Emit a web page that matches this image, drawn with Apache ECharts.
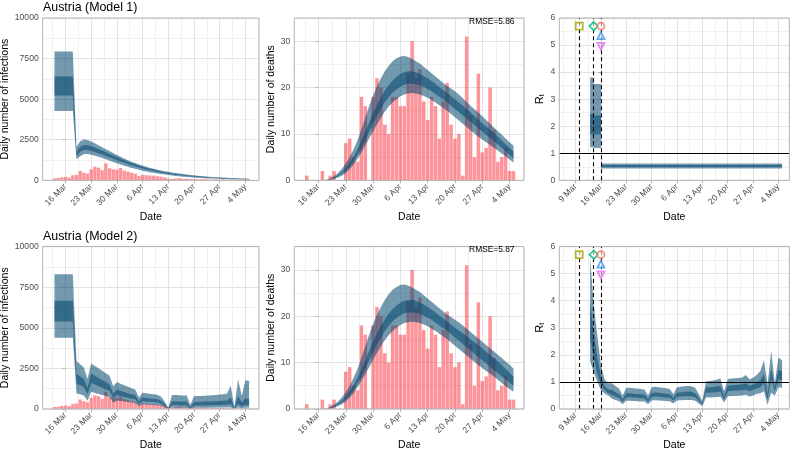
<!DOCTYPE html>
<html><head><meta charset="utf-8">
<script src="https://cdn.jsdelivr.net/npm/echarts@6/dist/echarts.min.js"></script>
<style>html,body{margin:0;padding:0;background:#fff}#c{width:794px;height:450px}</style>
</head><body><div id="c"></div>
<script>
// ---------- DATA (x = day offset from 16 Mar 2020) ----------
const days = [-3,-2,-1,0,1,2,3,4,5,6,7,8,9,10,11,12,13,14,15,16,17,18,19,20,21,22,23,24,25,26,27,28,29,30,31,32,33,34,35,36,37,38,39,40,41,42,43,44,45,46,47,48,49,50];
const tickDays = [-7,0,7,14,21,28,35,42,49];
const tickLabels = ['9 Mar','16 Mar','23 Mar','30 Mar','6 Apr','13 Apr','20 Apr','27 Apr','4 May'];
const minorDays = [-10.5,-3.5,3.5,10.5,17.5,24.5,31.5,38.5,45.5,52.5];

const cases = [120,145,185,205,165,310,330,580,470,410, 680,840,780,620,1050,740,680,650,760,600, 530,470,410,270,330,310,300,280,250,220, 180,110,80,110,130,90,100,75,80,60, 70,75,40,50,55,45,60,40,30,35, 25,30,40,30];
const deaths = [1,0,0,0,2,0,1,2,0,0, 8,9,5,4,18,16,0,18,22,20, 12,10,18,18,16,16,23,30,22,24, 17,13,18,16,9,17,21,12,9,10, 1,31,14,5,23,6,7,20,11,4, 5,7,2,2];

// Model 1 infections
const infM1_u95 = [7930,7930,7930,7930,7930,7930, 2050,2400,2520,2480,2390,2280,2160,2040,1920,1800, 1680,1560,1450,1340,1240,1150,1060,980,905,835, 770,710,655,605,560,520,480,445,412,382, 354,328,304,282,262,243,226,210,195,181, 168,156,145,135,125,116,108,100];
const infM1_u50 = [6400,6400,6400,6400,6400,6400, 1750,2050,2170,2160,2100,2020,1930,1830,1730,1630, 1530,1430,1330,1240,1150,1065,985,910,840,775, 715,660,608,560,515,474,436,402,370,340, 313,288,265,244,224,206,190,175,161,148, 136,125,115,106,98,90,83,76];
const infM1_l50 = [5220,5220,5220,5220,5220,5220, 1500,1760,1870,1870,1820,1750,1670,1585,1500,1410, 1325,1240,1155,1075,1000,925,855,790,730,673, 620,571,526,484,445,410,377,347,319,293, 270,248,228,210,193,177,163,150,138,127, 117,107,99,91,84,77,71,65];
const infM1_l95 = [4270,4270,4270,4270,4270,4270, 1300,1480,1600,1620,1580,1520,1450,1370,1290,1210, 1130,1050,975,900,830,765,705,650,595,545, 500,460,420,385,352,322,294,268,245,224, 204,186,170,155,141,129,117,107,97,88, 80,73,66,60,55,50,45,41];

// Model 2 infections
const infM2_u95 = [8290,8290,8290,8290,8290,8290, 2950,2750,2550,1850,2800,2650,2500,2350,2200,2050, 1400,1650,1550,1450,1360,1280,1200,700,1000,960, 930,900,870,760,450,60,860,850,840,830, 820,250,780,790,800,810,820,840,860,880, 900,950,1420,100,1820,800,1760,1720];
const infM2_u50 = [6660,6660,6660,6660,6660,6660, 2150,2000,1850,1300,2200,2050,1900,1780,1650,1520, 950,1200,1120,1040,970,910,850,450,700,670, 645,620,600,520,300,35,470,465,460,455, 450,120,430,435,440,450,455,465,475,485, 500,520,700,50,800,400,650,600];
const infM2_l50 = [5380,5380,5380,5380,5380,5380, 1550,1450,1330,900,1600,1500,1400,1300,1200,1100, 650,850,790,730,680,630,590,300,480,460, 440,420,400,340,190,20,230,225,220,215, 210,50,200,205,210,215,220,225,230,235, 240,250,280,20,300,150,250,230];
const infM2_l95 = [4390,4390,4390,4390,4390,4390, 950,900,820,500,1050,980,920,860,800,740, 380,520,480,450,420,390,360,160,280,265, 255,240,230,190,100,8,80,78,76,74, 72,15,70,70,72,74,76,78,80,82, 84,86,90,5,90,40,80,75];

// Model 1 deaths
const dM1_u95 = [0,0,0,0,0, 0.1,0.4,0.9,1.6,2.5,3.6,5.0,6.7,8.6,11.0,13.5,16.0,18.3,20.3,22.0,23.5,24.7,25.7,26.3,26.7,26.8,26.6,26.2,25.7,25.2,24.5,23.8,23.1,22.4,21.7,21.0,20.3,19.8,19.2,18.5,17.7,16.9,16.1,15.3,14.6,13.8,13.0,12.2,11.4,10.6,9.8,9.0,8.2,7.5];
const dM1_u50 = [0,0,0,0,0, 0.05,0.25,0.6,1.1,1.8,2.7,3.8,5.1,6.7,8.5,10.5,12.5,14.5,16.3,17.9,19.3,20.5,21.5,22.3,22.9,23.3,23.5,23.5,23.3,22.9,22.5,22.0,21.4,20.8,20.1,19.5,18.8,18.2,17.5,16.8,16.1,15.4,14.7,13.8,13.0,12.3,11.6,10.9,10.2,9.4,8.6,7.8,7.0,6.2];
const dM1_l50 = [0,0,0,0,0, 0.02,0.15,0.45,0.85,1.4,2.1,3.0,4.1,5.4,6.9,8.6,10.4,12.2,13.9,15.4,16.8,17.9,18.9,19.6,20.2,20.6,20.8,20.8,20.7,20.5,20.1,19.7,19.2,18.6,18.0,17.4,16.8,16.1,15.4,14.7,14.0,13.3,12.6,11.9,11.2,10.5,9.8,9.1,8.4,7.7,7.0,6.3,5.5,4.7];
const dM1_l95 = [0,0,0,0,0, 0,0.1,0.3,0.6,1.0,1.6,2.4,3.4,4.6,6.0,7.5,9.0,10.6,12.1,13.5,14.8,15.9,16.8,17.5,18.1,18.5,18.7,18.8,18.7,18.5,18.2,17.8,17.3,16.8,16.2,15.6,15.0,14.3,13.6,12.9,12.2,11.5,10.8,10.1,9.4,8.8,8.2,7.6,7.0,6.4,5.8,5.2,4.5,3.8];

// Model 2 deaths
const dM2_u95 = [0,0,0,0,0, 0.1,0.4,0.9,1.6,2.5,3.6,5.0,6.7,8.6,11.0,13.5,16.0,18.3,20.3,22.0,23.5,24.7,25.7,26.3,26.7,26.8,26.6,26.2,25.7,25.2,24.5,23.8,23.1,22.4,21.7,21.0,20.3,19.8,19.2,18.7,18.0,17.3,16.6,15.9,15.2,14.5,13.8,13.1,12.4,11.7,11.0,10.2,9.5,8.7];
const dM2_u50 = [0,0,0,0,0, 0.05,0.25,0.6,1.1,1.8,2.7,3.8,5.1,6.7,8.5,10.5,12.5,14.5,16.3,17.9,19.3,20.5,21.5,22.3,22.9,23.3,23.5,23.5,23.3,22.9,22.5,22.0,21.4,20.8,20.1,19.5,18.8,18.2,17.5,16.9,16.3,15.7,15.0,14.4,13.7,13.0,12.3,11.6,10.9,10.2,9.4,8.6,7.8,7.0];
const dM2_l50 = [0,0,0,0,0, 0.02,0.15,0.45,0.85,1.4,2.1,3.0,4.1,5.4,6.9,8.6,10.4,12.2,13.9,15.4,16.8,17.9,18.9,19.6,20.2,20.6,20.8,20.8,20.7,20.5,20.1,19.7,19.2,18.6,18.0,17.4,16.8,16.1,15.4,14.7,14.0,13.3,12.6,11.9,11.2,10.5,9.8,9.1,8.4,7.7,7.0,6.4,5.7,5.0];
const dM2_l95 = [0,0,0,0,0, 0,0.1,0.3,0.6,1.0,1.6,2.4,3.4,4.6,6.0,7.5,9.0,10.6,12.1,13.5,14.8,15.9,16.8,17.5,18.1,18.5,18.7,18.8,18.7,18.5,18.2,17.8,17.3,16.8,16.2,15.6,15.0,14.3,13.6,12.9,12.2,11.5,10.8,10.1,9.4,8.8,8.2,7.6,7.0,6.3,5.6,4.9,4.3,3.7];

// Model 1 Rt (piecewise constant, change points)
const rtM1Days = [-3,-2,0,50];
const rtM1_u95 = [3.8,3.56,0.62,0.62];
const rtM1_u50 = [2.45,2.4,0.57,0.57];
const rtM1_l50 = [1.7,1.69,0.49,0.49];
const rtM1_l95 = [1.22,1.19,0.44,0.44];

// Model 2 Rt
const rtM2_u95 = [5.6,3.9,2.7,1.6,1.1,0.95,0.95,0.85,0.75,0.5, 0.78,0.78,0.76,0.75,0.74,0.72,0.5,0.8,0.82,0.8, 0.78,0.76,0.74,0.55,0.8,0.82,0.84,0.85,0.84,0.78, 0.55,0.3,1.02,1.03,1.05,1.08,1.12,0.65,1.1,1.12, 1.13,1.14,1.16,1.25,1.1,1.15,1.25,1.4,1.8,0.9, 2.15,0.95,1.9,1.8];
const rtM2_u50 = [4.0,2.8,1.9,1.2,0.85,0.72,0.7,0.62,0.55,0.36, 0.58,0.58,0.56,0.55,0.54,0.53,0.36,0.6,0.61,0.6, 0.58,0.56,0.55,0.4,0.6,0.61,0.63,0.64,0.63,0.58, 0.4,0.2,0.8,0.8,0.81,0.83,0.86,0.48,0.85,0.87, 0.88,0.89,0.9,0.95,0.85,0.9,0.97,1.05,1.3,0.55, 1.5,0.8,1.45,1.4];
const rtM2_l50 = [2.6,1.9,1.3,0.9,0.7,0.58,0.52,0.46,0.40,0.26, 0.43,0.43,0.42,0.41,0.40,0.39,0.26,0.45,0.46,0.45, 0.43,0.42,0.41,0.3,0.45,0.46,0.47,0.48,0.47,0.43, 0.3,0.15,0.6,0.6,0.61,0.62,0.64,0.35,0.65,0.66, 0.67,0.68,0.69,0.72,0.65,0.7,0.75,0.8,0.95,0.35, 1.1,0.65,1.1,1.05];
const rtM2_l95 = [1.75,1.37,1.0,0.69,0.57,0.5,0.38,0.33,0.28,0.17, 0.3,0.3,0.29,0.28,0.27,0.27,0.17,0.31,0.32,0.31, 0.3,0.29,0.28,0.2,0.31,0.32,0.33,0.33,0.33,0.3, 0.2,0.1,0.42,0.42,0.43,0.44,0.45,0.24,0.47,0.48, 0.48,0.49,0.5,0.52,0.46,0.5,0.55,0.58,0.65,0.15, 0.6,0.5,0.8,0.78];

// Interventions
const interventionDays = [-6,-2,0];
const markerDays = [-6,-2,0,0,0];
const markerRt = [5.7,5.7,5.7,5.35,4.95];
const markerShapes = ['rect','diamond','circle','triangle','triangle'];
const markerRotate = [0,0,0,0,180];
const markerColors = ['#A3A500','#00BF7D','#F8766D','#3D9BF0','#E76BF3'];

const rmse = ['RMSE=5.86','RMSE=5.87'];
const titles = ['Austria (Model 1)','Austria (Model 2)'];

// ---------- STYLE / LAYOUT ----------
const FONT = 'Liberation Sans, Arial, Helvetica, sans-serif';
const BAND = 'rgba(0,70,110,0.55)';
const BAR = 'rgba(250,60,70,0.55)';
const grids = [
  {left:42.7, top:18, width:216.3, height:162.3},
  {left:294.3, top:18, width:229.7, height:162.3},
  {left:559.3, top:18, width:230, height:162.3},
  {left:42.7, top:246.6, width:216.3, height:162.3},
  {left:294.3, top:246.6, width:229.7, height:162.3},
  {left:559.3, top:246.6, width:230, height:162.3}
];
const xExt = [[-6.2,52.7],[-6.2,52.7],[-11.5,52.0],[-6.2,52.7],[-6.2,52.7],[-11.5,52.0]];

const xAxes = [], yAxes = [], series = [], graphics = [];
function lbl(v){ const i = tickDays.indexOf(Math.round(v)); return i >= 0 ? tickLabels[i] : ''; }

function addAxes(i, yMax, yTicks, yMinor, yName, yGap, yRich) {
  const [mn, mx] = xExt[i];
  xAxes.push({type:'value', gridIndex:i, min:mn, max:mx,
    axisLine:{show:false},
    axisTick:{show:true, customValues:tickDays, length:3, lineStyle:{color:'#b3b3b3', width:1}},
    axisLabel:{customValues:tickDays, formatter:lbl, rotate:45, fontSize:8.6, color:'#4d4d4d', margin:5, fontFamily:FONT},
    splitLine:{show:true, lineStyle:{color:'#e2e2e2', width:1}},
    name:'Date', nameLocation:'middle', nameGap:31, nameTextStyle:{fontSize:10.5, color:'#000', fontFamily:FONT}});
  xAxes.push({type:'value', gridIndex:i, min:mn, max:mx, axisLine:{show:false},
    axisTick:{show:false, customValues:minorDays}, axisLabel:{show:false},
    splitLine:{show:true, lineStyle:{color:'#f0f0f0', width:1}}});
  const ya = {type:'value', gridIndex:i, min:0, max:yMax,
    axisLine:{show:false},
    axisTick:{show:true, customValues:yTicks, length:3, lineStyle:{color:'#b3b3b3', width:1}},
    axisLabel:{customValues:yTicks, formatter:v=>String(v), fontSize:8.6, color:'#4d4d4d', margin:4, fontFamily:FONT},
    splitLine:{show:true, lineStyle:{color:'#e2e2e2', width:1}},
    name:yName, nameLocation:'middle', nameGap:yGap,
    nameTextStyle:{fontSize:10.5, color:'#000', fontFamily:FONT}};
  if (yRich) ya.nameTextStyle.rich = yRich;
  yAxes.push(ya);
  yAxes.push({type:'value', gridIndex:i, min:0, max:yMax, axisLine:{show:false},
    axisTick:{show:false, customValues:yMinor}, axisLabel:{show:false},
    splitLine:{show:true, lineStyle:{color:'#f0f0f0', width:1}}});
}

// Ribbon: one polygon built from lower/upper values through the axis scales (api.coord)
function addBand(i, xs, lo, hi, step) {
  series.push({type:'custom', xAxisIndex:2*i, yAxisIndex:2*i, z:3, silent:true, clip:true,
    data: xs.map((d,k)=>[d, lo[k], hi[k]]),
    encode:{x:0, y:[1,2]},
    renderItem: function(params, api) {
      if (params.dataIndex !== 0) return null;
      const n = xs.length, top = [], bot = [];
      for (let k = 0; k < n; k++) {
        top.push(api.coord([xs[k], hi[k]]));
        if (step && k < n-1) top.push(api.coord([xs[k+1], hi[k]]));
        bot.push(api.coord([xs[k], lo[k]]));
        if (step && k < n-1) bot.push(api.coord([xs[k+1], lo[k]]));
      }
      return {type:'polygon', shape:{points: top.concat(bot.reverse())},
        style:{fill:BAND, stroke:'none', lineWidth:0}};
    }
  });
}
function addBars(i, vals) {
  series.push({type:'bar', xAxisIndex:2*i, yAxisIndex:2*i, data: days.map((d,k)=>[d, vals[k]]),
    barWidth:'90%', itemStyle:{color:BAR}, z:1, silent:true});
}
function addRtExtras(i) {
  series.push({type:'scatter', xAxisIndex:2*i, yAxisIndex:2*i, z:10, silent:true,
    data: markerDays.map((d,k)=>({value:[d, markerRt[k]], symbol:markerShapes[k], symbolRotate:markerRotate[k],
      symbolSize: markerShapes[k]==='diamond' ? 8.5 : 7,
      itemStyle:{color:'rgba(255,255,255,0.75)', borderColor:markerColors[k], borderWidth:1.8}})),
    markLine:{silent:true, symbol:'none', label:{show:false}, z:8,
      lineStyle:{type:[4,3], color:'#000', width:1.1},
      data: interventionDays.map(d=>({xAxis:d}))}
  });
  series.push({type:'line', xAxisIndex:2*i, yAxisIndex:2*i, data:[], z:9,
    markLine:{silent:true, symbol:'none', label:{show:false},
      lineStyle:{type:'solid', color:'#000', width:1.1}, data:[{yAxis:1}]}});
}

const rtRich = {r:{fontSize:11, color:'#000', fontFamily:FONT}, t:{fontSize:7.5, color:'#000', fontFamily:FONT, verticalAlign:'bottom', padding:[5,0,0,0]}};

addAxes(0, 10000, [0,2500,5000,7500,10000], [1250,3750,6250,8750], 'Daily number of infections', 27);
addBars(0, cases);
addBand(0, days, infM1_l95, infM1_u95);
addBand(0, days, infM1_l50, infM1_u50);

addAxes(1, 35, [0,10,20,30], [5,15,25,35], 'Daily number of deaths', 15);
addBars(1, deaths);
addBand(1, days, dM1_l95, dM1_u95);
addBand(1, days, dM1_l50, dM1_u50);

addAxes(2, 6, [0,1,2,3,4,5,6], [0.5,1.5,2.5,3.5,4.5,5.5], '{r|R}{t|t}', 13, rtRich);
addBand(2, rtM1Days, rtM1_l95, rtM1_u95, true);
addBand(2, rtM1Days, rtM1_l50, rtM1_u50, true);
addRtExtras(2);

addAxes(3, 10000, [0,2500,5000,7500,10000], [1250,3750,6250,8750], 'Daily number of infections', 27);
addBars(3, cases);
addBand(3, days, infM2_l95, infM2_u95);
addBand(3, days, infM2_l50, infM2_u50);

addAxes(4, 35, [0,10,20,30], [5,15,25,35], 'Daily number of deaths', 15);
addBars(4, deaths);
addBand(4, days, dM2_l95, dM2_u95);
addBand(4, days, dM2_l50, dM2_u50);

addAxes(5, 6, [0,1,2,3,4,5,6], [0.5,1.5,2.5,3.5,4.5,5.5], '{r|R}{t|t}', 13, rtRich);
addBand(5, days, rtM2_l95, rtM2_u95);
addBand(5, days, rtM2_l50, rtM2_u50);
addRtExtras(5);

grids.forEach(g => graphics.push({type:'rect', silent:true, z:100,
  shape:{x:g.left, y:g.top, width:g.width, height:g.height},
  style:{fill:'none', stroke:'#b3b3b3', lineWidth:1}}));
graphics.push({type:'text', z:100, x:43, y:7.5, style:{text:titles[0], fontSize:12.4, fontFamily:FONT, fill:'#000', align:'left', verticalAlign:'middle'}});
graphics.push({type:'text', z:100, x:43, y:236.5, style:{text:titles[1], fontSize:12.4, fontFamily:FONT, fill:'#000', align:'left', verticalAlign:'middle'}});
graphics.push({type:'text', z:100, x:514.5, y:21.5, style:{text:rmse[0], fontSize:8.4, fontFamily:FONT, fill:'#000', align:'right', verticalAlign:'middle'}});
graphics.push({type:'text', z:100, x:514.5, y:250, style:{text:rmse[1], fontSize:8.4, fontFamily:FONT, fill:'#000', align:'right', verticalAlign:'middle'}});

const chart = echarts.init(document.getElementById('c'), null, {renderer:'canvas'});
chart.setOption({
  animation:false,
  backgroundColor:'#fff',
  textStyle:{fontFamily:FONT},
  grid: grids.map(g => Object.assign({containLabel:false, outerBoundsMode:'none'}, g)),
  xAxis: xAxes, yAxis: yAxes, series: series, graphic: graphics
});
</script></body></html>
